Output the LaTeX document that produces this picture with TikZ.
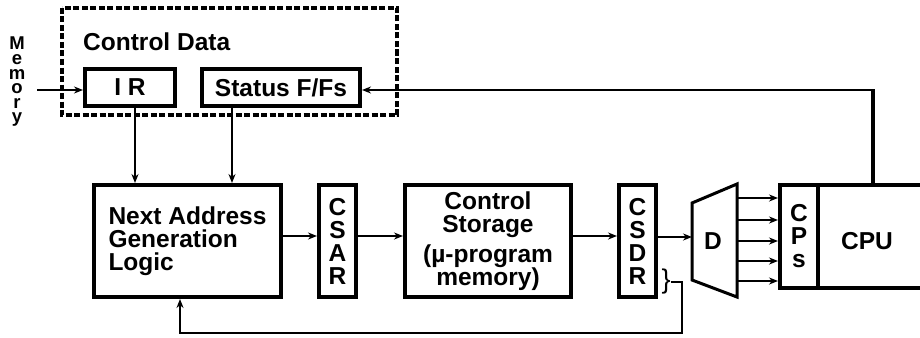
\documentclass[tikz,border=0pt]{standalone}
\usepackage{fontspec}
\setmainfont{Liberation Sans}
\usetikzlibrary{arrows.meta}
\begin{document}
\begin{tikzpicture}[x=1pt, y=-1pt, line join=miter,
  font=\fontsize{24.5}{23}\selectfont\bfseries,
  box/.style={draw, line width=4pt, rectangle, inner sep=0pt},
  arr/.style={line width=1.6pt, -{Stealth[length=9pt,width=7pt]}}]
\useasboundingbox (0,0) rectangle (920,337);

% control data (dotted frame)
\draw[line width=3.5pt, dash pattern=on 6pt off 2.5pt] (62,8) rectangle (397,115);
\node[anchor=west, inner sep=0pt] (cdata) at (83,42) {Control Data};
\node[box, minimum width=90pt, minimum height=37pt] (IR) at (130,87.5) {I R};
\node[box, minimum width=158pt, minimum height=37pt] (Status) at (281,87.5) {Status F/Fs};

% memory input
\node[font=\fontsize{18.5}{14.6}\selectfont\bfseries, align=center, inner sep=0pt] (memtxt) at (17,82) {M\\e\\m\\o\\r\\y};
\coordinate (mem) at (37,90);
\draw[arr] (mem) -- (mem -| IR.west);

% main blocks
\node[box, minimum width=187pt, minimum height=112pt, align=left] (NAGL) at (187.5,241) {Next Address\\Generation\\Logic};
\node[box, minimum width=37pt, minimum height=112pt, align=center] (CSAR) at (337.5,241) {C\\S\\A\\R};
\node[box, minimum width=166pt, minimum height=112pt, align=center] (CS) at (488,241) {Control\\Storage\\[7pt](µ-program\\memory)};
\node[box, minimum width=37pt, minimum height=112pt, align=center] (CSDR) at (637.5,241) {C\\S\\D\\R};

% decoder D
\draw[line width=3pt] (692,203) coordinate (dtl) -- (737,184) coordinate (dtr)
  -- (737,297) coordinate (dbr) -- (692,280) coordinate (dbl) -- cycle;
\node (D) at (713,241) {D};

% control points and CPU
\node[box, minimum width=38pt, minimum height=103pt, align=center] (CPs) at (799,236.5) {C\\P\\s};
\node[box, minimum width=120pt, minimum height=103pt] (CPU) at (878,236.5) {};
\node (cputxt) at (867,241) {CPU};

% data path
\draw[arr] (IR.south -| 135,0) -- (NAGL.north -| 135,0);
\draw[arr] (Status.south -| 232,0) -- (NAGL.north -| 232,0);
\draw[arr] ([yshift=5pt]NAGL.east) -- ([yshift=5pt]CSAR.west);
\draw[arr] ([yshift=5pt]CSAR.east) -- ([yshift=5pt]CS.west);
\draw[arr] ([yshift=5pt]CS.east) -- ([yshift=5pt]CSDR.west);
\draw[arr] ([yshift=4pt]CSDR.east) -- ([yshift=4pt]CSDR.east -| dtl);
\foreach \y in {198,220,241,261,281}
  \draw[arr] (dtr |- 0,\y) -- (CPs.west |- 0,\y);

% status feedback from CPU
\coordinate (fb) at (873,90);
\draw[line width=4pt] (CPU.north -| fb) -- ([yshift=1pt]fb);
\draw[arr] (fb) -- (fb -| Status.east);

% next address feedback from CSDR
\node[font=\fontsize{27}{27}\selectfont, inner sep=0pt] (brace) at (666,282) {\}};
\coordinate (fbk) at (682,333);
\draw[arr] (brace.east) -- (brace.east -| fbk) -- (fbk) -- (fbk -| 180,0) -- (NAGL.south -| 180,0);
\end{tikzpicture}
\end{document}
